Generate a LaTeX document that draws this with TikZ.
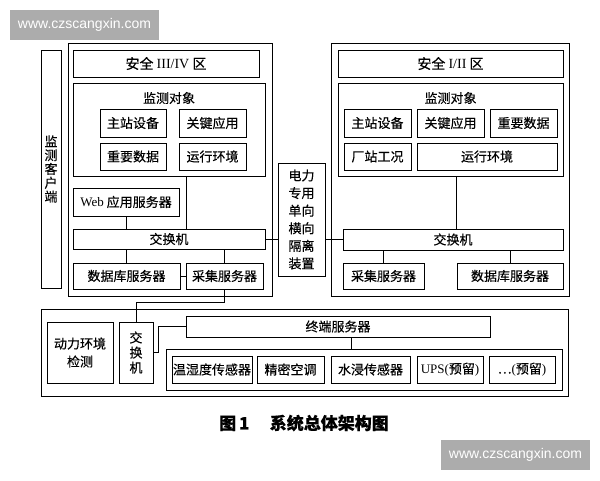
\documentclass[tikz,border=0pt]{standalone}
\usepackage{fontspec}
\setmainfont{Liberation Serif}
\newfontfamily\cjk[FakeBold=0.3]{Noto Sans CJK SC}
\newfontfamily\wmfont{Liberation Sans}
\newcommand{\lat}[1]{{\rmfamily #1}}

\begin{document}
\begin{tikzpicture}[x=1pt,y=-1pt,
  box/.style={draw,line width=0.9pt,inner sep=0pt,font=\cjk\fontsize{13}{15}\selectfont},
  link/.style={line width=0.8pt},
  wm/.style={fill=gray!65,text=white,inner sep=0pt,font=\wmfont\fontsize{14}{16}\selectfont}]
\useasboundingbox (0,0) rectangle (600,480);
% watermarks
\node[wm,minimum width=149,minimum height=30] (wm1) at (84.5,25) {www.czscangxin.com};
\node[wm,minimum width=149,minimum height=30] (wm2) at (515.5,455) {www.czscangxin.com};
% left zone
\node[box,minimum width=20,minimum height=238,align=center,font=\cjk\fontsize{13}{13.8}\selectfont] (client) at (51,169) {监\\测\\客\\户\\端};
\node[box,minimum width=204,minimum height=253] (zone1) at (170,169.5) {};
\node[box,minimum width=186,minimum height=27,font=\cjk\fontsize{14}{16}\selectfont] (sec1) at (166,63.5) {安全 \lat{III/IV} 区};
\node[box,minimum width=192,minimum height=93] (obj1) at (169,129.5) {};
\node[font=\cjk\fontsize{13}{15}\selectfont] (obj1t) at (169,98) {监测对象};
\node[box,minimum width=66,minimum height=28] (zz1) at (133,123) {主站设备};
\node[box,minimum width=67,minimum height=28] (gj1) at (212.5,123) {关键应用};
\node[box,minimum width=66,minimum height=27] (sj1) at (133,156.5) {重要数据};
\node[box,minimum width=67,minimum height=27] (yx1) at (212.5,156.5) {运行环境};
\node[box,minimum width=106,minimum height=28] (web) at (126,202) {\lat{Web} 应用服务器};
\node[box,minimum width=192,minimum height=20] (sw1) at (169,239) {交换机};
\node[box,minimum width=107,minimum height=26] (db1) at (126.5,276) {数据库服务器};
\node[box,minimum width=77,minimum height=26] (cj1) at (224.5,276) {采集服务器};
% isolation device
\node[box,minimum width=47,minimum height=113,align=center,font=\cjk\fontsize{13}{17.6}\selectfont] (iso) at (301.5,219.5) {电力\\专用\\单向\\横向\\隔离\\装置};
% right zone
\node[box,minimum width=238,minimum height=253] (zone2) at (450,169.5) {};
\node[box,minimum width=225,minimum height=27,font=\cjk\fontsize{14}{16}\selectfont] (sec2) at (450.5,63.5) {安全 \lat{I/II} 区};
\node[box,minimum width=225,minimum height=93] (obj2) at (450.5,129.5) {};
\node[font=\cjk\fontsize{13}{15}\selectfont] (obj2t) at (450.5,98) {监测对象};
\node[box,minimum width=67,minimum height=28] (zz2) at (377.5,123) {主站设备};
\node[box,minimum width=67,minimum height=28] (gj2) at (450.5,123) {关键应用};
\node[box,minimum width=67,minimum height=28] (sj2) at (523.5,123) {重要数据};
\node[box,minimum width=67,minimum height=27] (cz2) at (377.5,156.5) {厂站工况};
\node[box,minimum width=140,minimum height=27] (yx2) at (487,156.5) {运行环境};
\node[box,minimum width=220,minimum height=21] (sw2) at (453,239.5) {交换机};
\node[box,minimum width=81,minimum height=26] (cj2) at (383.5,276) {采集服务器};
\node[box,minimum width=106,minimum height=26] (db2) at (510,276) {数据库服务器};
% bottom part
\node[box,minimum width=527,minimum height=87] (base) at (304.5,352.5) {};
\node[box,minimum width=66,minimum height=61,align=center,font=\cjk\fontsize{13}{18}\selectfont] (env) at (80,352.5) {动力环境\\检测};
\node[box,minimum width=34,minimum height=61,align=center,font=\cjk\fontsize{13}{15}\selectfont] (sw3) at (136,352.5) {交\\换\\机};
\node[box,minimum width=304,minimum height=21] (term) at (338,326.5) {终端服务器};
\node[box,minimum width=396,minimum height=41] (sens) at (364,369.5) {};
\node[box,minimum width=80,minimum height=27] (s1) at (212,369.5) {温湿度传感器};
\node[box,minimum width=67,minimum height=27] (s2) at (290.5,369.5) {精密空调};
\node[box,minimum width=79,minimum height=27] (s3) at (370.5,369.5) {水浸传感器};
\node[box,minimum width=66,minimum height=27] (s4) at (450,369.5) {\lat{UPS(}预留\lat{)}};
\node[box,minimum width=66,minimum height=27] (s5) at (522,369.5) {…\lat{(}预留\lat{)}};
% connectors
\coordinate (o1) at ([xshift=17]obj1.south);
\draw[link] (o1) -- (o1 |- sw1.north);
\draw[link] (web.south) -- (web.south |- sw1.north);
\draw[link] (db1.north) -- (db1.north |- sw1.south);
\draw[link] (cj1.north) -- (cj1.north |- sw1.south);
\draw[link] (db1.east) -- (cj1.west);
\draw[link] (sw1.east) -- (sw1.east -| iso.west);
\draw[link] (sw2.west) -- (sw2.west -| iso.east);
\coordinate (o2) at ([xshift=6]obj2.south);
\draw[link] (o2) -- (o2 |- sw2.north);
\draw[link] (cj2.north) -- (cj2.north |- sw2.south);
\draw[link] (db2.north) -- (db2.north |- sw2.south);
\draw[link] (cj1.south) -- ++(0,13) -| (sw3.north);
\draw[link] (sw3.east) -- ++(5,0) |- (term.west);
\coordinate (t1) at ([xshift=13]term.south);
\draw[link] (t1) -- (t1 |- sens.north);
% caption
\node[font=\cjk\bfseries\fontsize{17}{19}\selectfont] (cap) at (304,423) {图\,1\hspace{1.2em}系统总体架构图};
\end{tikzpicture}
\end{document}
